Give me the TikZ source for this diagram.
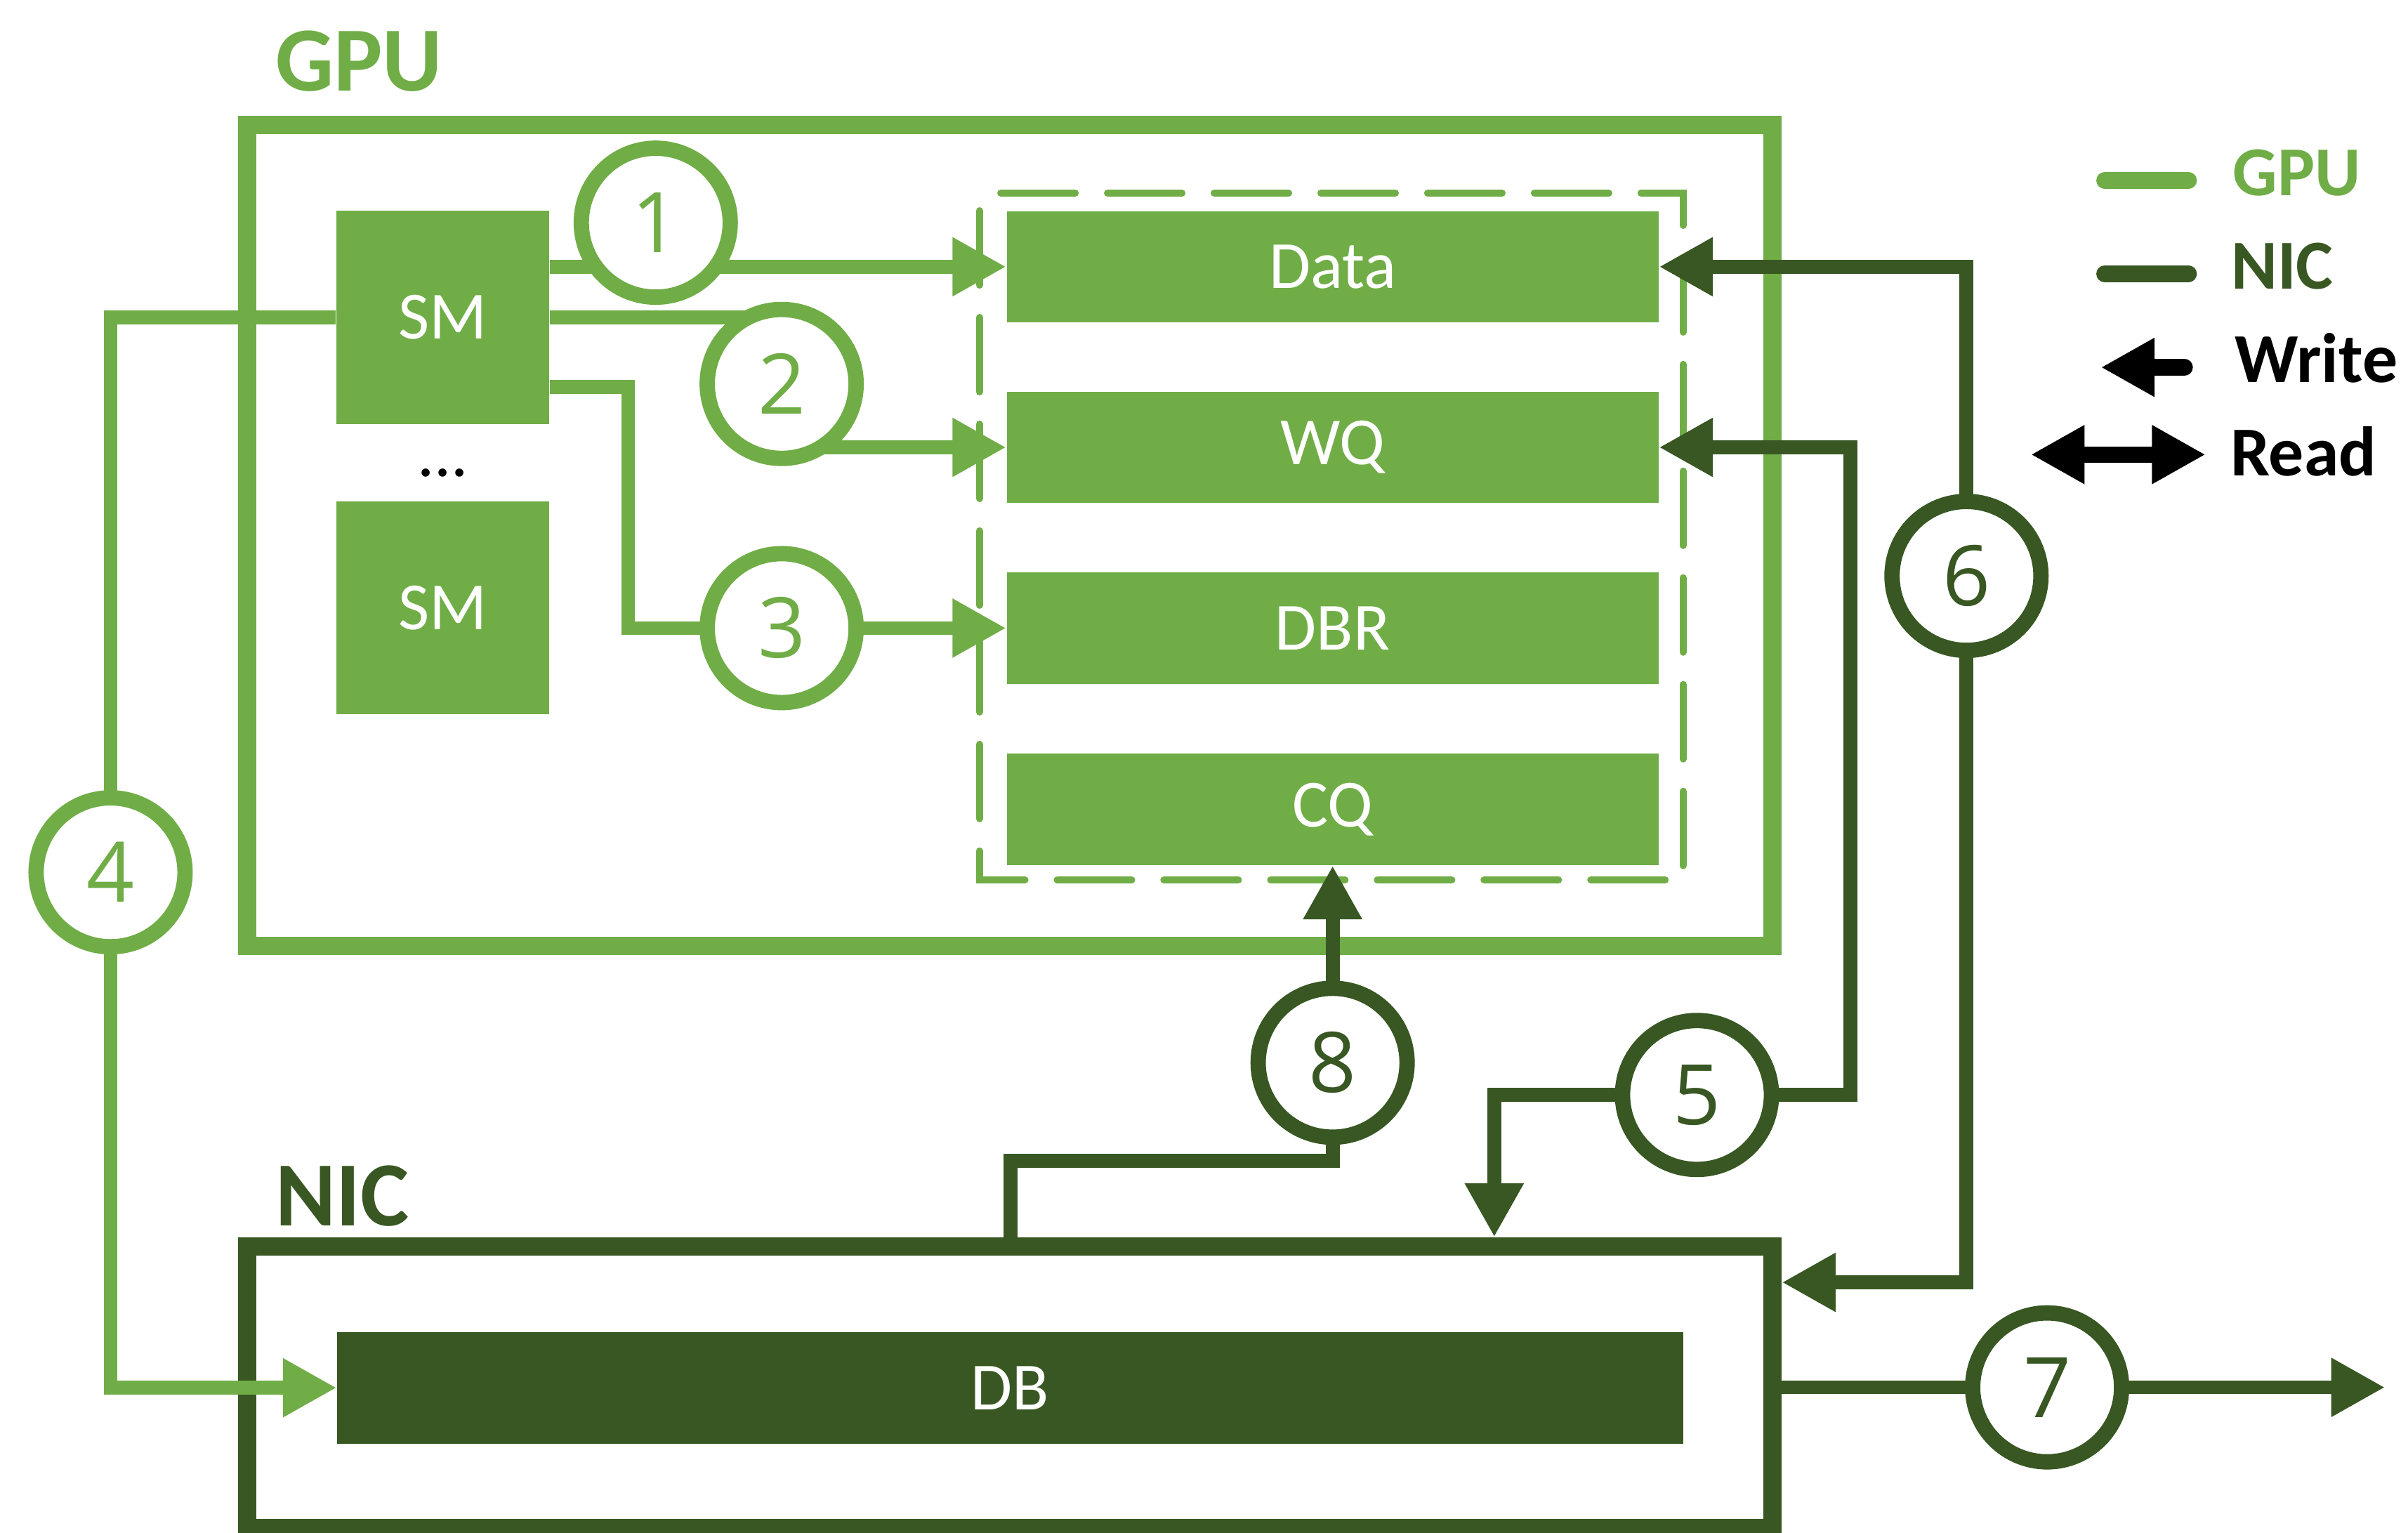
\documentclass[tikz,border=0pt]{standalone}
\usepackage{fontspec}
\setmainfont{Carlito}
\newfontfamily\stepfont{Open Sans}
\usetikzlibrary{arrows.meta}
\definecolor{gpugreen}{HTML}{70AD47}
\definecolor{nicgreen}{HTML}{385723}
\pgfdeclarelayer{frames}
\pgfdeclarelayer{links}
\pgfsetlayers{frames,links,main}

\begin{document}
\begin{tikzpicture}[x=0.02cm, y=-0.02cm,
        >={Triangle[length=0.7cm,width=0.72cm]},
        boxframe/.style={draw, line width=0.24cm, inner sep=0pt},
        smbox/.style={fill=gpugreen, text=white, inner sep=0pt, minimum width=2.772cm, minimum height=2.776cm, font=\fontsize{25}{30}\selectfont},
        qbar/.style={fill=gpugreen, text=white, inner sep=0pt, minimum width=8.49cm, minimum height=1.452cm, font=\fontsize{25}{30}\selectfont},
        num/.style={circle, draw, fill=white, line width=0.2cm, minimum size=1.94cm, inner sep=0pt, font=\stepfont\fontsize{31}{37}\selectfont},
        gpunum/.style={num, draw=gpugreen, text=gpugreen},
        nicnum/.style={num, draw=nicgreen, text=nicgreen},
        gpuline/.style={draw=gpugreen, line width=0.18cm},
        nicline/.style={draw=nicgreen, line width=0.18cm},
        boxtitle/.style={anchor=base west, inner sep=0pt, font=\fontsize{34}{40}\selectfont\bfseries},
        legendtext/.style={anchor=base west, inner sep=0pt, font=\fontsize{26}{31}\selectfont\bfseries}]
        \useasboundingbox (0,0) rectangle (1568,998);

        % Boxes
        \begin{pgfonlayer}{frames}
        \node[boxframe, draw=gpugreen, minimum width=19.872cm, minimum height=10.69cm] (gpu) at (657.6,348.75) {};
        \node[boxframe, draw=nicgreen, minimum width=19.872cm, minimum height=3.676cm] (nic) at (657.6,903.4) {};
        \draw[gpugreen, line width=0.092cm, line cap=round, dash pattern=on 0.97cm off 0.42cm, dash phase=1.16cm] (637.8,125.7) rectangle (1096,573);
        \end{pgfonlayer}
        \node[boxtitle, text=gpugreen] (gputitle) at (179,59) {GPU};
        \node[boxtitle, text=nicgreen] (nictitle) at (179,798) {NIC};

        % GPU parts
        \node[smbox] (sm1) at (288.3,206.6) {SM};
        \node[smbox] (sm2) at (288.3,395.75) {SM};
        \node[font=\fontsize{25}{30}\selectfont, inner sep=0pt] (dots) at (288.3,308) {...};
        \node[qbar] (data) at (867.75,173.7) {Data};
        \node[qbar] (wq) at (867.75,291.3) {WQ};
        \node[qbar] (dbr) at (867.75,409) {DBR};
        \node[qbar] (cq) at (867.75,527) {CQ};
        \node[fill=nicgreen, text=white, inner sep=0pt, minimum width=17.53cm, minimum height=1.454cm, font=\fontsize{25}{30}\selectfont] (db) at (657.75,903.65) {DB};

        % Steps
        \node[gpunum] (c1) at (427,145) {1};
        \node[gpunum] (c2) at (509,250) {2};
        \node[gpunum] (c3) at (509,409) {3};
        \node[gpunum] (c4) at (72,568) {4};
        \node[nicnum] (c5) at (1105,713) {5};
        \node[nicnum] (c6) at (1280.5,375) {6};
        \node[nicnum] (c7) at (1333,903.4) {7};
        \node[nicnum] (c8) at (867.75,692) {8};

        \coordinate (k3) at (409,252);
        \coordinate (k5) at (1205,713);
        \coordinate (k5b) at (973,713);
        \coordinate (k8) at (658,756);
        \coordinate (out7) at (1553,903.4);

        \begin{pgfonlayer}{links}
        \draw[gpuline, ->] (sm1.east |- data.west) -- (data.west);
        \draw[gpuline, ->] (sm1.east) -- (sm1.east -| c2) -- (c2 |- wq.west) -- (wq.west);
        \draw[gpuline, ->] (sm1.east |- k3) -- (k3) |- (dbr.west);
        \draw[gpuline, ->] (sm1.west) -| (c4.center) |- (db.west);
        \draw[nicline, <->] (wq.east) -| (k5) -- (k5b) -- (k5b |- nic.north);
        \draw[nicline, <->] (data.east) -| (c6.center) |- ([yshift=1.368cm]nic.east);
        \draw[nicline, ->] (nic.east) -- (out7);
        \draw[nicline, ->] (k8 |- nic.north) -- (k8) -| (cq.south);
        \end{pgfonlayer}

        % Legend
        \node[legendtext, text=gpugreen] (lgpu) at (1453.5,127.5) {GPU};
        \node[legendtext, text=nicgreen] (lnic) at (1452.5,188) {NIC};
        \node[legendtext] (lwrite) at (1455,248.8) {Write};
        \node[legendtext] (lread) at (1452,309.6) {Read};
        \coordinate (ga) at (1370.5,117.5);
        \coordinate (gb) at (1425,117.5);
        \coordinate (na) at (1370.5,178.3);
        \coordinate (nb) at (1425,178.3);
        \coordinate (wa) at (1422.4,239.2);
        \coordinate (wb) at (1368,239.2);
        \coordinate (ra) at (1322.4,296);
        \coordinate (rb) at (1436.2,296);
        \draw[gpugreen, line width=0.22cm, line cap=round] (ga) -- (gb);
        \draw[nicgreen, line width=0.22cm, line cap=round] (na) -- (nb);
        \draw[line width=0.22cm, line cap=round, ->] (wa) -- (wb);
        \draw[line width=0.21cm, <->] (ra) -- (rb);
\end{tikzpicture}
\end{document}
